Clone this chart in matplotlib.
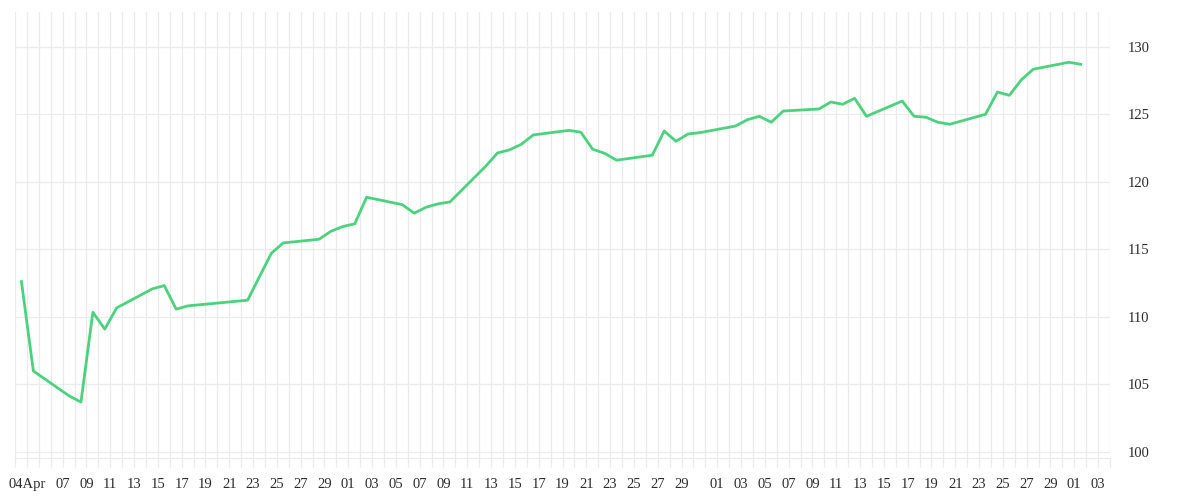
import pandas as pd
import matplotlib
matplotlib.use("Agg")
import matplotlib.pyplot as plt
import matplotlib.dates as mdates

# Datos (cierres diarios)
fechas = ["2019-04-04", "2019-04-05", "2019-04-08", "2019-04-09", "2019-04-10", "2019-04-11",
          "2019-04-12", "2019-04-15", "2019-04-16", "2019-04-17", "2019-04-18", "2019-04-23",
          "2019-04-25", "2019-04-26", "2019-04-29", "2019-04-30", "2019-05-01", "2019-05-02",
          "2019-05-03", "2019-05-06", "2019-05-07", "2019-05-08", "2019-05-09", "2019-05-10",
          "2019-05-13", "2019-05-14", "2019-05-15", "2019-05-16", "2019-05-17", "2019-05-20",
          "2019-05-21", "2019-05-22", "2019-05-23", "2019-05-24", "2019-05-27", "2019-05-28",
          "2019-05-29", "2019-05-30", "2019-05-31", "2019-06-03", "2019-06-04", "2019-06-05",
          "2019-06-06", "2019-06-07", "2019-06-10", "2019-06-11", "2019-06-12", "2019-06-13",
          "2019-06-14", "2019-06-17", "2019-06-18", "2019-06-19", "2019-06-20", "2019-06-21",
          "2019-06-24", "2019-06-25", "2019-06-26", "2019-06-27", "2019-06-28", "2019-07-01",
          "2019-07-02"]
valores = [112.62, 106.0, 104.16, 103.7, 110.35, 109.1, 110.67, 112.08, 112.32, 110.58,
           110.82, 111.24, 114.72, 115.48, 115.75, 116.34, 116.69, 116.89, 118.86, 118.31,
           117.68, 118.12, 118.37, 118.51, 121.15, 122.14, 122.36, 122.78, 123.47, 123.81,
           123.67, 122.41, 122.11, 121.6, 121.97, 123.76, 123.0, 123.54, 123.64, 124.13,
           124.6, 124.85, 124.41, 125.24, 125.39, 125.91, 125.74, 126.18, 124.85, 125.98,
           124.85, 124.78, 124.41, 124.26, 125.0, 126.65, 126.4, 127.54, 128.33, 128.85,
           128.7]
yticks = [100, 105, 110, 115, 120, 125, 130]

color_linea = "#4cd27e"
color_grid = "#ebebeb"
color_texto = "#2b2b2b"

# los puntos vienen en UTC, el eje se muestra en hora local
x = pd.to_datetime(fechas) - pd.Timedelta(hours=11)

fig = plt.figure(figsize=(12, 5), dpi=100)
ax = fig.add_axes([15 / 1200, 1 - 458 / 500, 1095 / 1200, 446 / 500])

ax.plot(x, valores, color=color_linea, linewidth=2.0, solid_joinstyle="round")

ax.set_xlim(pd.Timestamp("2019-04-03"), pd.Timestamp("2019-07-04"))
ax.set_ylim(99.56, 132.57)

# ticks: 04Apr y luego días impares de cada mes
dias = pd.date_range("2019-04-07", "2019-07-03", freq="D")
ticks = [pd.Timestamp("2019-04-04")] + [d for d in dias if d.day % 2 == 1 and d.day < 30]
etiquetas = ["04Apr"] + [d.strftime("%d") for d in ticks[1:]]
ax.set_xticks(ticks)
ax.set_xticklabels(etiquetas)
ax.xaxis.set_minor_locator(mdates.DayLocator())

ax.yaxis.tick_right()
ax.set_yticks(yticks)

ax.grid(True, which="both", axis="x", color=color_grid, linewidth=0.9)
ax.grid(True, which="major", axis="y", color=color_grid, linewidth=0.9)
ax.set_axisbelow(True)

for lado in ["top", "left", "right"]:
    ax.spines[lado].set_visible(False)
ax.spines["bottom"].set_color(color_grid)
ax.spines["bottom"].set_linewidth(0.9)

ax.tick_params(axis="x", which="both", length=6.5, width=0.9, color=color_grid,
               pad=8, labelsize=10.5, labelcolor=color_texto)
ax.tick_params(axis="y", length=0, pad=13, labelsize=10.5, labelcolor=color_texto)
for t in ax.get_xticklabels() + ax.get_yticklabels():
    t.set_fontfamily("Liberation Serif")

plt.savefig("out.png", dpi=100)
